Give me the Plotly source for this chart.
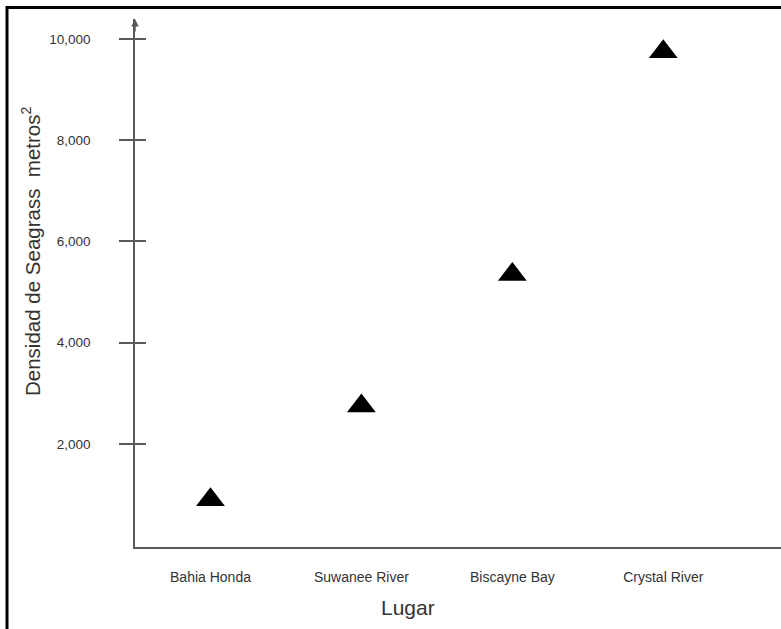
import plotly.graph_objects as go

# ---- data ----
lugares = ["Bahia Honda", "Suwanee River", "Biscayne Bay", "Crystal River"]
densidad = [900, 2750, 5350, 9750]
y_tickvals = [2000, 4000, 6000, 8000, 10000]
y_ticktext = ["2,000", "4,000", "6,000", "8,000", "10,000"]
y_title = "Densidad de Seagrass&nbsp; metros<sup>2</sup>"
x_title = "Lugar"

W, H = 781, 629
L, R, T, B = 135, 0, 19, 82
pw = W - L - R
ph = H - T - B

def px_x(x):
    return (x - L) / pw

def px_y(y):
    return (H - B - y) / ph

FONT = "Liberation Sans, Arial, sans-serif"
AX = "#5a5a5a"

fig = go.Figure()
fig.add_trace(go.Scatter(
    x=lugares, y=densidad, mode="markers",
    marker=dict(symbol="triangle-up", size=25, color="black",
                line=dict(width=0)),
    showlegend=False, hoverinfo="x+y",
))
# invisible trace on overlay axis for inward ticks
fig.add_trace(go.Scatter(x=lugares, y=densidad, yaxis="y2", mode="markers",
                         marker=dict(opacity=0), showlegend=False, hoverinfo="skip"))

yr = [-35, 10395]
fig.update_layout(
    width=W, height=H,
    margin=dict(l=L, r=R, t=T, b=B),
    paper_bgcolor="white", plot_bgcolor="white",
    font=dict(family=FONT, color="#333"),
    xaxis=dict(
        type="category", range=[-0.5, 3.78],
        showline=True, linecolor=AX, linewidth=1.5,
        showgrid=False, zeroline=False, ticks="",
        tickfont=dict(size=14, color="#333"),
        ticklabelstandoff=16,
    ),
    yaxis=dict(
        range=yr, showline=True, linecolor=AX, linewidth=1.5,
        showgrid=False, zeroline=False,
        tickvals=y_tickvals, ticktext=y_ticktext,
        ticks="outside", ticklen=14, tickwidth=1.5, tickcolor=AX,
        tickfont=dict(size=13.5, color="#333"),
        ticklabelstandoff=26,
    ),
    yaxis2=dict(
        range=yr, overlaying="y", side="left", showline=False,
        showgrid=False, zeroline=False,
        tickvals=y_tickvals, ticks="inside", ticklen=11, tickwidth=1.5,
        tickcolor=AX, showticklabels=False,
    ),
    shapes=[
        dict(type="line", xref="paper", yref="paper",
             x0=px_x(7), x1=px_x(7), y0=px_y(H + 10), y1=px_y(6),
             line=dict(color="black", width=3)),
        dict(type="line", xref="paper", yref="paper",
             x0=px_x(6), x1=px_x(W + 10), y0=px_y(7.5), y1=px_y(7.5),
             line=dict(color="black", width=3)),
    ],
    annotations=[
        dict(text=y_title, textangle=-90, xref="paper", yref="paper",
             x=px_x(31), y=px_y(252), xanchor="center", yanchor="middle",
             showarrow=False, font=dict(size=20.5, color="#333", family=FONT)),
        dict(text=x_title, xref="paper", yref="paper",
             x=px_x(408), y=px_y(607), xanchor="center", yanchor="middle",
             showarrow=False, font=dict(size=21, color="#333", family=FONT)),
        dict(text="", xref="paper", yref="paper", x=0, y=px_y(19),
             showarrow=True, ax=0, ay=14, arrowhead=2, arrowsize=1,
             arrowwidth=1.5, arrowcolor=AX),
    ],
)

fig.write_html("out.html", config={"displayModeBar": False},
               post_script="document.body.style.margin='0';document.body.style.padding='0';")
